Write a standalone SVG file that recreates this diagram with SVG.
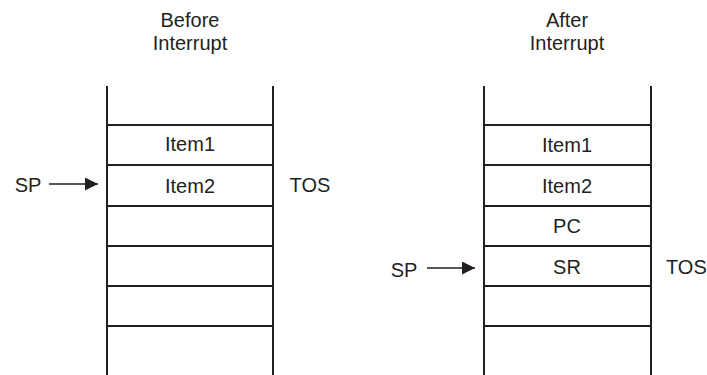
<svg xmlns="http://www.w3.org/2000/svg" width="707" height="375" viewBox="0 0 707 375">
<defs>
<style>
text{font-family:"Liberation Sans",Arial,sans-serif;font-size:20px;fill:#231f20;text-anchor:middle}
.l{stroke:#231f20;stroke-width:2;fill:none}
.a{stroke:#231f20;stroke-width:1.3;fill:none}
</style>
<marker id="ah" markerWidth="13" markerHeight="13" viewBox="0 0 13 13" refX="13" refY="6.5" orient="auto" markerUnits="userSpaceOnUse">
<path d="M0,0 L13,6.5 L0,13 Z" fill="#231f20"/>
</marker>
</defs>
<rect width="707" height="375" fill="#fff"/>
<g id="before">
<text x="190" y="27">Before</text>
<text x="190" y="50">Interrupt</text>
<g id="stack-before">
<line class="l" x1="107" y1="86" x2="107" y2="375"/>
<line class="l" x1="273" y1="86" x2="273" y2="375"/>
<line class="l" x1="107" y1="125" x2="273" y2="125"/>
<line class="l" x1="107" y1="165" x2="273" y2="165"/>
<line class="l" x1="107" y1="206" x2="273" y2="206"/>
<line class="l" x1="107" y1="246" x2="273" y2="246"/>
<line class="l" x1="107" y1="286" x2="273" y2="286"/>
<line class="l" x1="107" y1="326" x2="273" y2="326"/>
</g>
<g id="b-item1"><text x="190" y="151">Item1</text></g>
<g id="b-item2"><text x="190" y="193">Item2</text></g>
<g id="b-sp"><text x="28" y="192">SP</text></g>
<g id="b-tos"><text x="310" y="192">TOS</text></g>
</g>
<g id="after">
<text x="567" y="27">After</text>
<text x="567" y="50">Interrupt</text>
<g id="stack-after">
<line class="l" x1="484" y1="86" x2="484" y2="375"/>
<line class="l" x1="651" y1="86" x2="651" y2="375"/>
<line class="l" x1="484" y1="125" x2="651" y2="125"/>
<line class="l" x1="484" y1="165" x2="651" y2="165"/>
<line class="l" x1="484" y1="206" x2="651" y2="206"/>
<line class="l" x1="484" y1="246" x2="651" y2="246"/>
<line class="l" x1="484" y1="286" x2="651" y2="286"/>
<line class="l" x1="484" y1="326" x2="651" y2="326"/>
</g>
<g id="a-item1"><text x="567" y="152">Item1</text></g>
<g id="a-item2"><text x="567" y="193">Item2</text></g>
<g id="a-pc"><text x="567" y="233">PC</text></g>
<g id="a-sr"><text x="567" y="274">SR</text></g>
<g id="a-sp"><text x="404" y="277">SP</text></g>
<g id="a-tos"><text x="666" y="274" style="text-anchor:start">TOS</text></g>
</g>
<g id="connectors">
<line class="a" x1="49" y1="184" x2="98" y2="184" marker-end="url(#ah)"/>
<line class="a" x1="427" y1="268" x2="475" y2="268" marker-end="url(#ah)"/>
</g>
</svg>
